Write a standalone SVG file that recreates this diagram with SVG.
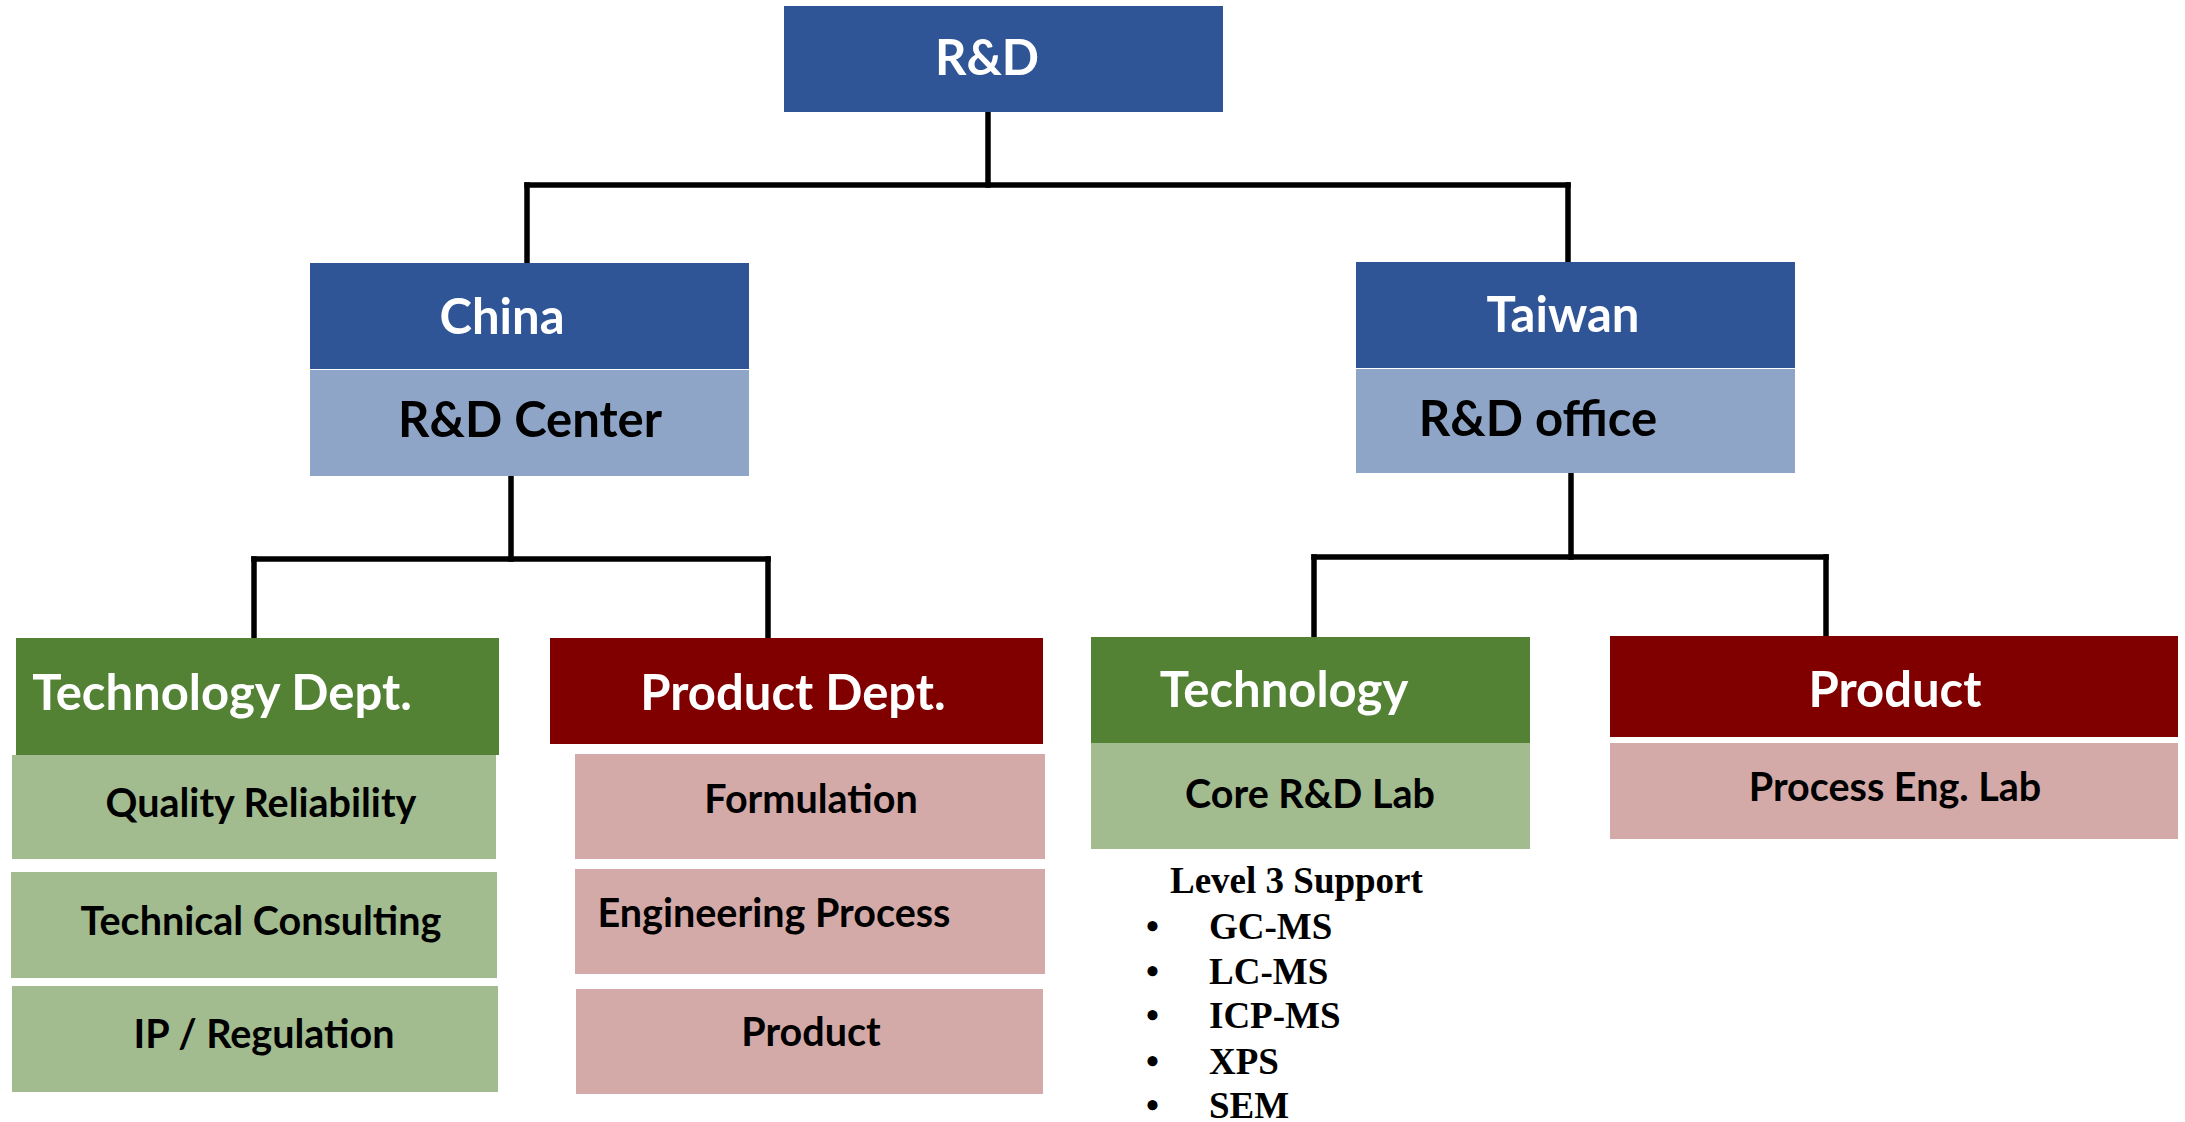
<svg xmlns="http://www.w3.org/2000/svg" width="2185" height="1122" viewBox="0 0 2185 1122">
<style>
.hd{fill:#2F5597}
.lb{fill:#8FA5C7}
.gd{fill:#548235}
.gl{fill:#A2BC90}
.rd{fill:#800000}
.rl{fill:#D4AAA9}
text{font-family:Lato,"Liberation Sans",sans-serif;font-weight:bold;text-anchor:middle}
.w{fill:#FFFFFF}
.k{fill:#000000}
.t1{font-size:49px}
.t2{font-size:39.5px}
.sv{font-family:"Liberation Serif","Times New Roman",serif;font-size:37px;text-anchor:start;fill:#000}
.conn{stroke:#000;stroke-width:5.5;fill:none;stroke-linecap:square}
</style>
<rect width="2185" height="1122" fill="#FFFFFF"/>
<g id="connectors" class="conn">
<path d="M988 112V185"/>
<path d="M527 185H1568"/>
<path d="M527 185V263"/>
<path d="M1568 185V262"/>
<path d="M511 476V559"/>
<path d="M254 559H768"/>
<path d="M254 559V638"/>
<path d="M768 559V638"/>
<path d="M1571 473V557"/>
<path d="M1314 557H1826"/>
<path d="M1314 557V637"/>
<path d="M1826 557V636"/>
</g>
<g id="node-rd">
<rect class="hd" x="784" y="6" width="439" height="106"/>
<text class="w t1" x="987" y="75">R&amp;D</text>
</g>
<g id="node-china">
<rect class="hd" x="310" y="263" width="439" height="106"/>
<text class="w t1" x="502" y="334">China</text>
</g>
<g id="node-rd-center">
<rect class="lb" x="310" y="370" width="439" height="106"/>
<text class="k t1" x="530" y="437">R&amp;D Center</text>
</g>
<g id="node-taiwan">
<rect class="hd" x="1356" y="262" width="439" height="106"/>
<text class="w t1" x="1563" y="332">Taiwan</text>
</g>
<g id="node-rd-office">
<rect class="lb" x="1356" y="369" width="439" height="104"/>
<text class="k t1" x="1538" y="436">R&amp;D office</text>
</g>
<g id="node-tech-dept">
<rect class="gd" x="16" y="638" width="483" height="117"/>
<text class="w t1" x="222" y="710">Technology Dept.</text>
</g>
<g id="node-quality">
<rect class="gl" x="12" y="755" width="484" height="104"/>
<text class="k t2" x="261" y="817">Quality Reliability</text>
</g>
<g id="node-consulting">
<rect class="gl" x="11" y="872" width="486" height="106"/>
<text class="k t2" x="261" y="935">Technical Consulting</text>
</g>
<g id="node-ip">
<rect class="gl" x="12" y="986" width="486" height="106"/>
<text class="k t2" x="264" y="1048">IP / Regulation</text>
</g>
<g id="node-prod-dept">
<rect class="rd" x="550" y="638" width="493" height="106"/>
<text class="w t1" x="793" y="710">Product Dept.</text>
</g>
<g id="node-formulation">
<rect class="rl" x="575" y="754" width="470" height="105"/>
<text class="k t2" x="811" y="813">Formulation</text>
</g>
<g id="node-eng-process">
<rect class="rl" x="575" y="869" width="470" height="105"/>
<text class="k t2" x="774" y="927">Engineering Process</text>
</g>
<g id="node-product-cn">
<rect class="rl" x="576" y="989" width="467" height="105"/>
<text class="k t2" x="811" y="1046">Product</text>
</g>
<g id="node-technology">
<rect class="gd" x="1091" y="637" width="439" height="106"/>
<text class="w t1" x="1284" y="707">Technology</text>
</g>
<g id="node-core-lab">
<rect class="gl" x="1091" y="743" width="439" height="106"/>
<text class="k t2" x="1310" y="808">Core R&amp;D Lab</text>
</g>
<g id="node-level3">
<text class="sv" x="1170" y="893">Level 3 Support</text>
<text class="sv" x="1146" y="939">•</text><text class="sv" x="1209" y="939">GC-MS</text>
<text class="sv" x="1146" y="984">•</text><text class="sv" x="1209" y="984">LC-MS</text>
<text class="sv" x="1146" y="1028">•</text><text class="sv" x="1209" y="1028">ICP-MS</text>
<text class="sv" x="1146" y="1074">•</text><text class="sv" x="1209" y="1074">XPS</text>
<text class="sv" x="1146" y="1118">•</text><text class="sv" x="1209" y="1118">SEM</text>
</g>
<g id="node-product-tw">
<rect class="rd" x="1610" y="636" width="568" height="101"/>
<text class="w t1" x="1895" y="707">Product</text>
</g>
<g id="node-process-lab">
<rect class="rl" x="1610" y="743" width="568" height="96"/>
<text class="k t2" x="1895" y="801">Process Eng. Lab</text>
</g>
</svg>
